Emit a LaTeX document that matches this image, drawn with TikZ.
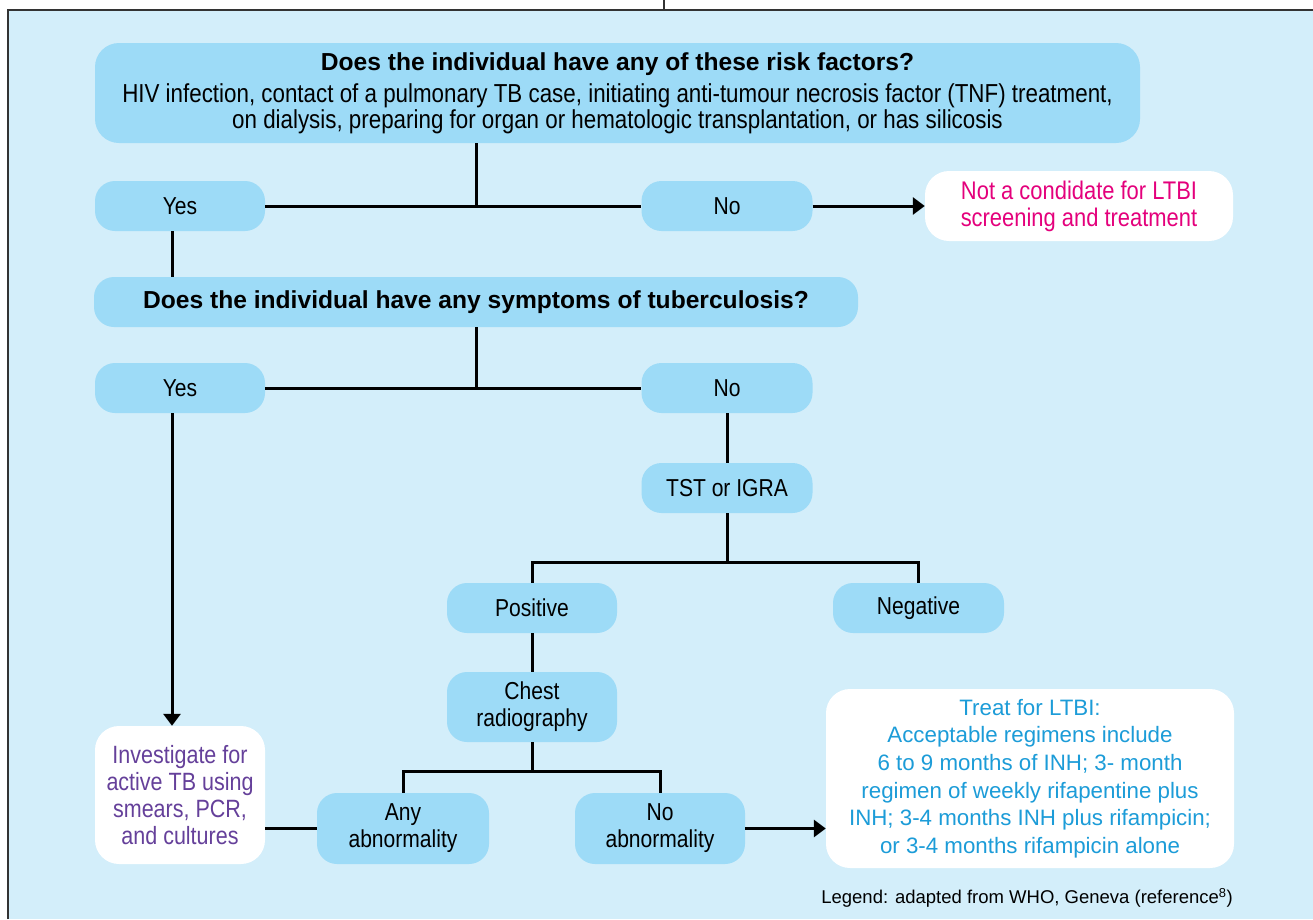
\documentclass[tikz,border=0pt]{standalone}
\usepackage{fontspec}
\setmainfont{Liberation Sans}[FakeStretch=0.86]
\newfontfamily\widefont{Liberation Sans}
\usetikzlibrary{arrows.meta}
\definecolor{bgblue}{HTML}{D3EEFA}
\definecolor{boxblue}{HTML}{9DDBF7}
\definecolor{notpink}{HTML}{E4007C}
\definecolor{invpurple}{HTML}{65409A}
\definecolor{treatblue}{HTML}{1C9CD8}
\begin{document}
\begin{tikzpicture}[x=1pt, y=-1pt,
    question/.style = {fill=boxblue, rounded corners=24pt, inner sep=0pt, align=center},
    answer/.style = {fill=boxblue, rounded corners=20pt, minimum width=170pt, minimum height=50pt, inner sep=0pt, align=center, font=\fontsize{24.5}{27}\selectfont},
    outcome/.style = {fill=white, rounded corners=24pt, inner sep=0pt, align=center},
    joint/.style = {line width=3pt},
    leadto/.style = {line width=3pt, -{Triangle[length=12pt, width=17pt]}}]
    \useasboundingbox (0,0) rectangle (1313,919);
    \fill[bgblue] (8,10) rectangle (1313,919);
    \draw[line width=1.5pt, black!80] (8,919) -- (8,10) -- (1313,10);
    \draw[line width=1.5pt, black!80] (664,0) -- (664,10);

    \node[question, minimum width=1045pt, minimum height=100pt, font=\fontsize{26}{25.5}\selectfont] (risk) at (617.5,93)
        {{\widefont\bfseries\fontsize{24.6}{28}\selectfont Does the individual have any of these risk factors?}\\[7pt]
         HIV infection, contact of a pulmonary TB case, initiating anti-tumour necrosis factor (TNF) treatment,\\
         on dialysis, preparing for organ or hematologic transplantation, or has silicosis};
    \node[answer] (yes1) at (180,206) {Yes};
    \node[answer, minimum width=171pt] (no1) at (727,206) {No};
    \node[outcome, minimum width=308pt, minimum height=70pt, text=notpink, font=\fontsize{25.5}{27}\selectfont] (skip) at (1079,206)
        {Not a condidate for LTBI\\screening and treatment};
    \node[question, minimum width=764pt, minimum height=50pt, rounded corners=20pt, font=\widefont\bfseries\fontsize{24.6}{28}\selectfont] (symp) at (476,302)
        {Does the individual have any symptoms of tuberculosis?};
    \node[answer] (yes2) at (180,388) {Yes};
    \node[answer, minimum width=171pt] (no2) at (727,388) {No};
    \node[answer, minimum width=171pt] (test) at (727,488) {TST or IGRA};
    \node[answer] (pos) at (532,608) {Positive};
    \node[answer, minimum width=171pt] (neg) at (918.5,608) {Negative};
    \node[answer, minimum height=70pt] (xray) at (532,707) {Chest\\radiography};
    \node[answer, minimum width=172pt, minimum height=71pt] (abn) at (403,828.5) {Any\\abnormality};
    \node[answer, minimum height=71pt] (noabn) at (660,828.5) {No\\abnormality};
    \node[outcome, minimum width=170pt, minimum height=138pt, text=invpurple, font=\fontsize{25}{27}\selectfont] (invest) at (180,795)
        {Investigate for\\active TB using\\smears, PCR,\\and cultures};
    \node[outcome, minimum width=408pt, minimum height=179pt, text=treatblue, font=\widefont\fontsize{22.3}{27.7}\selectfont] (treat) at (1030,778.5)
        {Treat for LTBI:\\Acceptable regimens include\\6 to 9 months of INH; 3- month\\regimen of weekly rifapentine plus\\INH; 3-4 months INH plus rifampicin;\\or 3-4 months rifampicin alone};
    \node[anchor=east, inner sep=0pt, font=\widefont\fontsize{18.5}{22}\selectfont] (legend) at (1233,898)
        {Legend: adapted from WHO, Geneva (reference\textsuperscript{8})};

    \coordinate (fork1) at (476,206);
    \draw[joint] (risk.south -| fork1) -- (fork1);
    \draw[joint] (yes1) -- (no1);
    \draw[leadto] (no1) -- (skip);
    \draw[joint] ([xshift=-8pt]yes1.south) -- ([xshift=-8pt]yes1.south |- symp.north);
    \coordinate (fork2) at (476,388);
    \draw[joint] (symp.south -| fork2) -- (fork2);
    \draw[joint] (yes2) -- (no2);
    \draw[leadto] ([xshift=-8pt]yes2.south) -- ([xshift=-8pt]yes2.south |- invest.north);
    \draw[joint] (no2) -- (test);
    \coordinate (fork3) at (727,562);
    \draw[joint] (test) -- (fork3);
    \draw[joint] (pos) |- (fork3) -| (neg);
    \draw[joint] (pos) -- (xray);
    \coordinate (fork4) at (532,771);
    \draw[joint] (xray) -- (fork4);
    \draw[joint] (abn) |- (fork4) -| (noabn);
    \draw[joint] (abn.west) -- (abn.west -| invest.east);
    \draw[leadto] (noabn.east) -- (noabn.east -| treat.west);
\end{tikzpicture}
\end{document}
